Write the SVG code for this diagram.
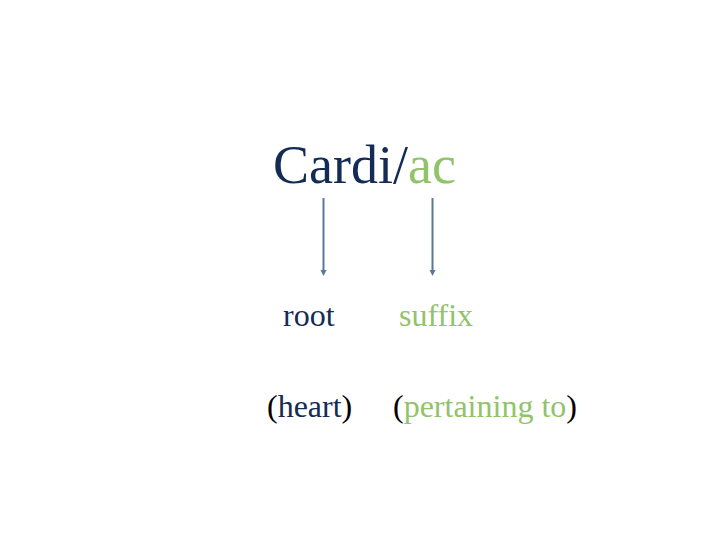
<svg xmlns="http://www.w3.org/2000/svg" width="720" height="540" viewBox="0 0 720 540">
<style>
text{font-family:"Liberation Serif","Times New Roman",serif}
.navy{fill:#132b55}
.green{fill:#92c36a}
.blk{fill:#000}
.conn{stroke:#5a7796;stroke-width:2;fill:none}
</style>
<defs>
<marker id="ah" viewBox="0 0 6 6" refX="3" refY="5" markerWidth="3" markerHeight="3" orient="auto-start-reverse" markerUnits="strokeWidth">
<path d="M0,0 L6,0 L3,6 Z" fill="#5a7796" transform="rotate(-90 3 3)"/>
</marker>
</defs>
<rect width="720" height="540" fill="#fff"/>
<g id="word"><text x="273" y="183" font-size="54"><tspan class="navy">Cardi/</tspan><tspan class="green">ac</tspan></text></g>
<g id="connectors">
<line class="conn" x1="323.5" y1="198" x2="323.5" y2="272"/>
<path d="M320.5,270 L326.5,270 L323.5,276 Z" fill="#5a7796"/>
<line class="conn" x1="432.5" y1="198" x2="432.5" y2="272"/>
<path d="M429.5,270 L435.5,270 L432.5,276 Z" fill="#5a7796"/>
</g>
<g id="root"><text x="283" y="326" font-size="32" class="navy">root</text></g>
<g id="suffix"><text x="399" y="326" font-size="32" class="green">suffix</text></g>
<g id="heart"><text x="267" y="417" font-size="32"><tspan class="blk">(</tspan><tspan class="navy">heart</tspan><tspan class="blk">)</tspan></text></g>
<g id="pertaining"><text x="393" y="417" font-size="32"><tspan class="blk">(</tspan><tspan class="green">pertaining to</tspan><tspan class="blk">)</tspan></text></g>
</svg>
